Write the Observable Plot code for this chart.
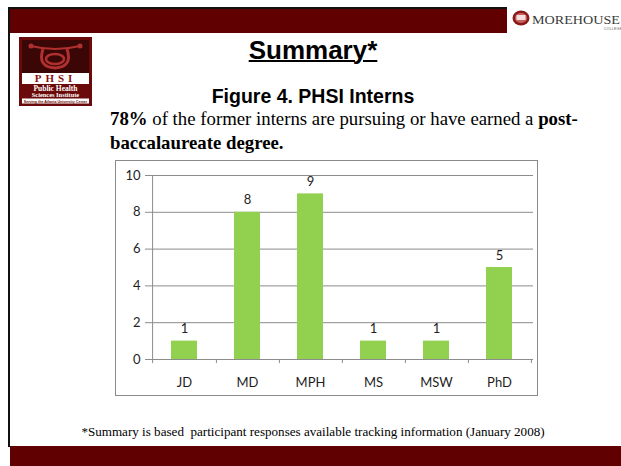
<!DOCTYPE html>
<html>
<head>
<meta charset="utf-8">
<script src="https://cdn.jsdelivr.net/npm/d3@7"></script>
<script src="https://cdn.jsdelivr.net/npm/@observablehq/plot@0.6"></script>
<style>
  html, body { margin: 0; padding: 0; background: #fff; }
  #slide { position: relative; width: 621px; height: 466px; overflow: hidden; background: #fff; }
  .abs { position: absolute; }
  #topline { left: 8px; top: 7px; width: 499px; height: 2px; background: #111; }
  #topbar { left: 10px; top: 9px; width: 497px; height: 24px; background: #600000; }
  #leftline { left: 8px; top: 7px; width: 2px; height: 440px; background: #111; }
  #footbar { left: 10px; top: 446px; width: 611px; height: 20px; background: #600000; }
  #title { left: 0; width: 626px; top: 37px; text-align: center; font: bold 26px/26px "Liberation Sans", Arial, sans-serif; text-decoration: underline; text-decoration-thickness: 2px; color: #000; white-space: nowrap; }
  #figtitle { left: 0; width: 626px; top: 87px; text-align: center; font: bold 19.5px/19.5px "Liberation Sans", Arial, sans-serif; color: #000; white-space: nowrap; }
  #para { left: 110px; top: 107px; width: 500px; font: 18.8px/24px "Liberation Serif", serif; color: #000; }
  #foot { left: 0; width: 626px; top: 425px; text-align: center; font: 13.1px/13.1px "Liberation Serif", serif; color: #000; white-space: nowrap; }
  #chart { left: 115px; top: 160px; width: 423px; height: 236px; border: 1px solid #8a8a8a; box-sizing: border-box; }
  #chart svg { display: block; }
  #morehouse { left: 510px; top: 6px; width: 111px; height: 26px; overflow: hidden; }
</style>
</head>
<body>
<div id="slide">
  <div class="abs" id="topbar"></div>
  <div class="abs" id="topline"></div>
  <div class="abs" id="leftline"></div>
  <div class="abs" id="footbar"></div>
  <svg class="abs" id="morehouse" width="111" height="26" viewBox="0 0 111 26">
    <ellipse cx="11" cy="12" rx="8.5" ry="7.5" fill="#8a1a1a"/>
    <ellipse cx="11" cy="12" rx="6" ry="5" fill="#c86060"/>
    <rect x="6.5" y="9" width="9" height="5" fill="#f3dede"/>
    <path d="M5 16 Q11 20 17 16" stroke="#8a1a1a" stroke-width="1.5" fill="none"/>
    <text x="22" y="17.5" font-family="Liberation Serif, serif" font-size="13" textLength="88" lengthAdjust="spacingAndGlyphs" fill="#3a3a3a">MOREHOUSE</text>
    <text x="94" y="23.5" font-family="Liberation Sans, sans-serif" font-size="3.4" letter-spacing="0.3" fill="#555">COLLEGE</text>
  </svg>
  <svg class="abs" style="left:19px; top:37px;" width="73" height="69" viewBox="0 0 73 69">
    <rect x="0" y="0" width="73" height="69" fill="#6a0a0a"/>
    <rect x="3" y="3" width="67" height="33" fill="#3a0606"/>
    <circle cx="12" cy="9" r="2.5" fill="#b03030"/>
    <circle cx="61" cy="9" r="2.5" fill="#b03030"/>
    <path d="M12 9 Q36 15 61 9" stroke="#b03030" stroke-width="2" fill="none"/>
    <path d="M24 12 Q18 30 36 31 Q54 30 48 12" stroke="#b03030" stroke-width="3" fill="none"/>
    <ellipse cx="36" cy="22" rx="9" ry="5" fill="none" stroke="#b03030" stroke-width="2.5"/>
    <rect x="3" y="36" width="67" height="11" fill="#fff"/>
    <text x="36.5" y="45" text-anchor="middle" font-family="Liberation Serif, serif" font-weight="bold" font-size="11" letter-spacing="4" fill="#8a1010">PHSI</text>
    <text x="36.5" y="53.5" text-anchor="middle" font-family="Liberation Serif, serif" font-weight="bold" font-size="7.5" fill="#fff">Public Health</text>
    <text x="36.5" y="60" text-anchor="middle" font-family="Liberation Serif, serif" font-weight="bold" font-size="6.4" fill="#fff">Sciences Institute</text>
    <rect x="3" y="61.5" width="67" height="5" fill="#fff"/>
    <text x="36.5" y="65.6" text-anchor="middle" font-family="Liberation Sans, sans-serif" font-weight="bold" font-size="3.6" fill="#6a0a0a">Serving the Atlanta University Center</text>
  </svg>
  <div class="abs" id="title">Summary*</div>
  <div class="abs" id="figtitle">Figure 4. PHSI Interns</div>
  <div class="abs" id="para"><b>78%</b> of the former interns are pursuing or have earned a <b>post-<br>baccalaureate degree.</b></div>
  <div class="abs" id="chart"></div>
  <div class="abs" id="foot">*Summary is based&nbsp; participant responses available tracking information (January 2008)</div>
</div>
<script>
const categories = ["JD", "MD", "MPH", "MS", "MSW", "PhD"];
const counts = [1, 8, 9, 1, 1, 5];
const yTicks = [0, 2, 4, 6, 8, 10];

const data = categories.map((c, i) => ({degree: c, count: counts[i]}));

const W = 421, H = 234;
const mL = 34, mR = 4, mT = 14, mB = 36;
const step = (W - mL - mR) / categories.length;
const font = "Lato, 'Open Sans', sans-serif";
const ink = "#1e1e1e";
const gridColor = "#8c8c8c";

const chart = Plot.plot({
  width: W,
  height: H,
  marginLeft: mL,
  marginRight: mR,
  marginTop: mT,
  marginBottom: mB,
  style: {fontFamily: font, fontSize: "13px", color: ink, background: "#fff"},
  x: {domain: categories, paddingInner: 0.58, paddingOuter: 0.29, label: null},
  y: {domain: [0, 10], ticks: yTicks, label: null},
  marks: [
    Plot.gridY(yTicks, {stroke: gridColor, strokeOpacity: 1, strokeWidth: 1}),
    Plot.axisY(yTicks, {tickSize: 5, tickPadding: 5, stroke: gridColor, fontSize: 13, fill: ink, label: null}),
    Plot.axisX({tickSize: 0, tickPadding: 18, fontSize: 13, fill: ink, label: null}),
    Plot.barY(data, {x: "degree", y: "count", fill: "#92d050"}),
    Plot.ruleX([categories[0]], {x: d => d, y1: -0.22, y2: 10, dx: -step / 2, stroke: gridColor}),
    Plot.ruleX(categories, {x: d => d, y1: -0.22, y2: 0, dx: step / 2, stroke: gridColor}),
    Plot.ruleY([0], {stroke: gridColor}),
    Plot.text(data, {x: "degree", y: "count", text: d => String(d.count), dy: -12, fontSize: 13, fill: ink})
  ]
});
document.getElementById("chart").appendChild(chart);
</script>
</body>
</html>
